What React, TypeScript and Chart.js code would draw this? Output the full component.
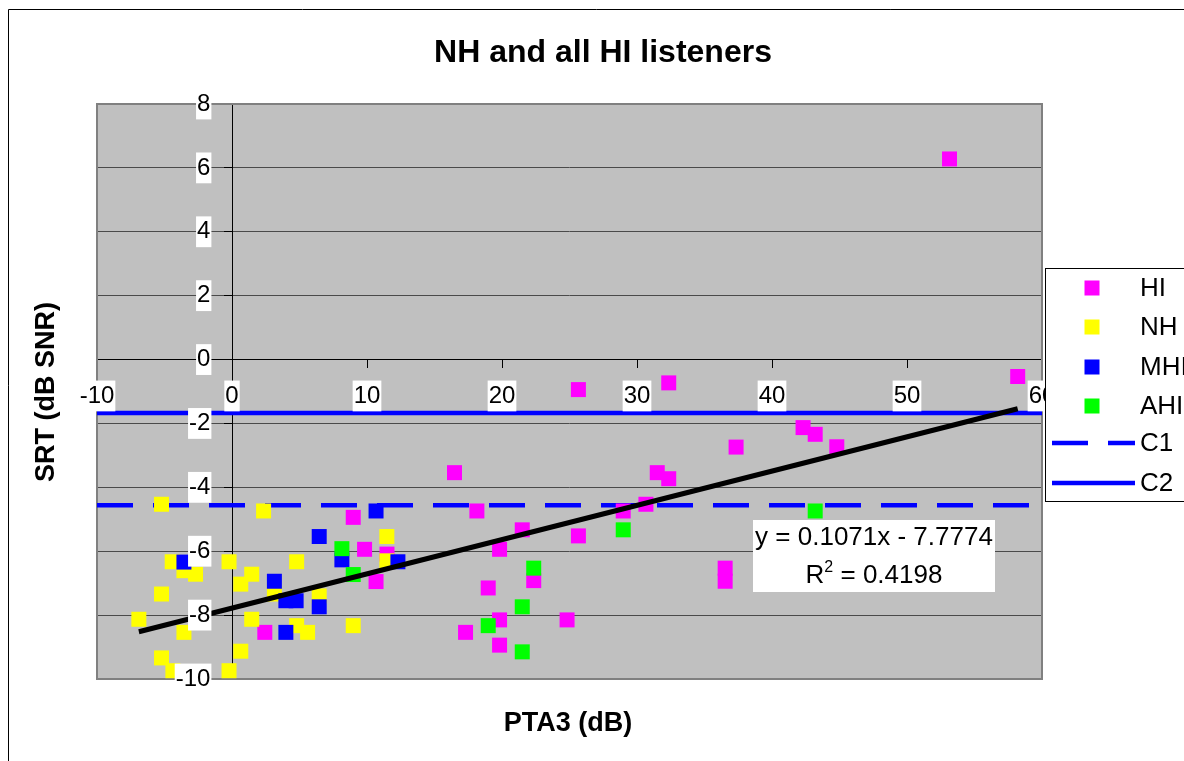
import React, { useEffect, useRef } from 'react';
import { Chart, registerables } from 'chart.js';

Chart.register(...registerables);

// ---- data ----
const seriesNames = ['HI', 'NH', 'MHI', 'AHI', 'C1', 'C2'];
const seriesColors = ['#FF00FF', '#FFFF00', '#0000FF', '#00FF00', '#0000FF', '#0000FF'];

const hiX = [53.15, 58.2, 25.66, 32.35, 42.3, 43.2, 44.8, 37.34, 31.5, 32.35, 30.66, 28.98, 25.66, 36.53, 36.53, 16.48, 18.14, 21.5, 19.82, 18.98, 22.35, 19.82, 24.82, 17.3, 19.82, 8.98, 9.82, 11.48, 10.67, 2.43];
const hiY = [6.28, -0.53, -0.94, -0.73, -2.13, -2.34, -2.73, -2.74, -3.54, -3.73, -4.53, -4.74, -5.52, -6.53, -6.94, -3.54, -4.74, -5.33, -5.94, -7.15, -6.92, -8.15, -8.15, -8.54, -8.94, -4.94, -5.94, -6.09, -6.95, -8.54];

const nhX = [-5.22, 2.34, -4.43, -3.56, -2.7, -0.22, 0.65, 1.46, -5.22, -6.9, -3.56, 1.46, 0.65, -5.22, -4.38, -0.22, 11.47, 4.79, 11.47, 3.14, 6.46, 4.79, 5.6, 8.98];
const nhY = [-4.53, -4.74, -6.33, -6.61, -6.72, -6.33, -7.03, -6.72, -7.34, -8.13, -8.54, -8.13, -9.13, -9.34, -9.74, -9.74, -5.54, -6.33, -6.3, -7.34, -7.4, -8.33, -8.54, -8.33];

const mhiX = [-3.56, 10.67, 6.46, 8.14, 12.29, 3.14, 3.99, 4.75, 6.46, 3.99];
const mhiY = [-6.34, -4.74, -5.54, -6.27, -6.33, -6.94, -7.55, -7.55, -7.74, -8.54];

const ahiX = [8.14, 8.98, 22.35, 21.5, 18.98, 21.5, 28.98, 43.2];
const ahiY = [-5.92, -6.73, -6.53, -7.74, -8.33, -9.15, -5.33, -4.74];

const c1Y = -4.56;
const c2Y = -1.67;
const refLineX = [-10, 60];

const trendX = [-6.9, 58.2];
const trendY = [-8.52, -1.54];

const equationText = 'y = 0.1071x - 7.7774';
const r2Text = '= 0.4198';

const chartTitle = 'NH and all HI listeners';
const xTitle = 'PTA3 (dB)';
const yTitle = 'SRT (dB SNR)';

const xMin = -10, xMax = 60, xStep = 10;
const yMin = -10, yMax = 8, yStep = 2;

const toPts = (xs: number[], ys: number[]) => xs.map((x, i) => ({ x, y: ys[i] }));

const FONT = '"Liberation Sans", Arial, Helvetica, sans-serif';

export default function App() {
  const ref = useRef<HTMLCanvasElement>(null);

  useEffect(() => {
    const canvas = ref.current;
    if (!canvas) return;

    const decor = {
      id: 'decor',
      beforeDraw(chart: any) {
        const { ctx, chartArea: a } = chart;
        ctx.save();
        ctx.fillStyle = '#ffffff';
        ctx.fillRect(0, 0, chart.width, chart.height);
        ctx.strokeStyle = '#000';
        ctx.lineWidth = 1;
        ctx.beginPath();
        ctx.moveTo(0.5, chart.height);
        ctx.lineTo(0.5, 1.5);
        ctx.lineTo(chart.width, 1.5);
        ctx.stroke();
        ctx.fillStyle = '#C0C0C0';
        ctx.fillRect(a.left, a.top, a.right - a.left, a.bottom - a.top);
        ctx.restore();
      },
      beforeDatasetsDraw(chart: any) {
        const { ctx, chartArea: a } = chart;
        ctx.save();
        ctx.strokeStyle = '#808080';
        ctx.lineWidth = 2;
        ctx.strokeRect(a.left, a.top, a.right - a.left, a.bottom - a.top);
        ctx.restore();
      },
      afterDatasetsDraw(chart: any) {
        const { ctx } = chart;
        ctx.save();
        // equation box
        const bx = 745, by = 512, bw = 242, bh = 72;
        ctx.fillStyle = '#fff';
        ctx.fillRect(bx, by, bw, bh);
        ctx.fillStyle = '#000';
        ctx.textBaseline = 'alphabetic';
        ctx.font = `26px ${FONT}`;
        ctx.textAlign = 'center';
        const cx = bx + bw / 2;
        ctx.fillText(equationText, cx, 537);
        // R^2 line
        ctx.textAlign = 'left';
        const wR = ctx.measureText('R').width;
        const wRest = ctx.measureText(' ' + r2Text).width;
        ctx.font = `16px ${FONT}`;
        const w2 = ctx.measureText('2').width;
        const total = wR + w2 + wRest;
        const x0 = cx - total / 2;
        ctx.font = `26px ${FONT}`;
        ctx.fillText('R', x0, 575);
        ctx.font = `16px ${FONT}`;
        ctx.fillText('2', x0 + wR, 564);
        ctx.font = `26px ${FONT}`;
        ctx.fillText(' ' + r2Text, x0 + wR + w2, 575);
        ctx.restore();
      },
      afterDraw(chart: any) {
        const { ctx } = chart;
        ctx.save();
        ctx.fillStyle = '#000';
        ctx.textAlign = 'center';
        ctx.textBaseline = 'middle';
        ctx.font = `bold 32px ${FONT}`;
        ctx.fillText(chartTitle, 595, 45);
        ctx.font = `bold 27px ${FONT}`;
        ctx.fillText(xTitle, 560, 716);
        ctx.save();
        ctx.translate(39, 384);
        ctx.rotate(-Math.PI / 2);
        ctx.fillText(yTitle, 0, 0);
        ctx.restore();

        // legend
        const lx = 1037, ly = 260, lw = 200, lh = 233;
        ctx.fillStyle = '#fff';
        ctx.fillRect(lx, ly, lw, lh);
        ctx.strokeStyle = '#000';
        ctx.lineWidth = 1;
        ctx.strokeRect(lx + 0.5, ly + 0.5, lw, lh);
        const rowsY = [280, 319, 359, 398, 435, 475];
        ctx.textAlign = 'left';
        ctx.font = `26px ${FONT}`;
        seriesNames.forEach((name, i) => {
          const ry = rowsY[i];
          if (i < 4) {
            ctx.fillStyle = seriesColors[i];
            ctx.fillRect(1084 - 7.5, ry - 7.5, 15, 15);
          } else {
            ctx.strokeStyle = seriesColors[i];
            ctx.lineWidth = 4.5;
            ctx.setLineDash(i === 4 ? [36, 20] : []);
            ctx.beginPath();
            ctx.moveTo(1044, ry);
            ctx.lineTo(1127, ry);
            ctx.stroke();
            ctx.setLineDash([]);
          }
          ctx.fillStyle = '#000';
          ctx.fillText(name, 1132, ry + 1);
        });
        ctx.restore();
      },
    };

    const tickFont = { size: 24, family: FONT };
    const pointBase = { pointStyle: 'rect', pointRadius: 10.6, pointHoverRadius: 10.6, borderWidth: 0, showLine: false };
    const labelTicks = {
      font: tickFont,
      color: '#000',
      padding: 14,
      showLabelBackdrop: true,
      backdropColor: '#fff',
      backdropPadding: 1,
      z: 1,
      maxRotation: 0,
      autoSkip: false,
    };

    const chart = new Chart(canvas, {
      type: 'scatter',
      data: {
        datasets: [
          {
            label: 'Trend',
            data: toPts(trendX, trendY),
            showLine: true,
            borderColor: '#000',
            borderWidth: 5,
            pointRadius: 0,
            fill: false,
            order: 0,
          },
          { label: seriesNames[3], data: toPts(ahiX, ahiY), backgroundColor: seriesColors[3], borderColor: seriesColors[3], ...pointBase, order: 1 } as any,
          { label: seriesNames[2], data: toPts(mhiX, mhiY), backgroundColor: seriesColors[2], borderColor: seriesColors[2], ...pointBase, order: 2 } as any,
          { label: seriesNames[1], data: toPts(nhX, nhY), backgroundColor: seriesColors[1], borderColor: seriesColors[1], ...pointBase, order: 3 } as any,
          { label: seriesNames[0], data: toPts(hiX, hiY), backgroundColor: seriesColors[0], borderColor: seriesColors[0], ...pointBase, order: 4 } as any,
          {
            label: seriesNames[5],
            data: toPts(refLineX, [c2Y, c2Y]),
            showLine: true,
            borderColor: seriesColors[5],
            borderWidth: 4.5,
            pointRadius: 0,
            fill: false,
            order: 5,
          },
          {
            label: seriesNames[4],
            data: toPts(refLineX, [c1Y, c1Y]),
            showLine: true,
            borderColor: seriesColors[4],
            borderWidth: 4.5,
            borderDash: [36, 20],
            borderCapStyle: 'butt',
            pointRadius: 0,
            fill: false,
            order: 6,
          },
        ],
      },
      options: {
        responsive: false,
        animation: false,
        devicePixelRatio: 1,
        events: [],
        layout: { padding: { left: 89, top: 96, right: 142, bottom: 82 } },
        plugins: {
          legend: { display: false },
          title: { display: false },
          tooltip: { enabled: false },
        },
        scales: {
          x: {
            type: 'linear',
            min: xMin,
            max: xMax,
            position: { y: 0 } as any,
            ticks: { ...labelTicks, stepSize: xStep } as any,
            grid: { drawOnChartArea: false, drawTicks: true, tickLength: 8, tickColor: '#000', color: '#000' },
            border: { display: true, color: '#000', width: 1 },
          },
          y: {
            type: 'linear',
            min: yMin,
            max: yMax,
            position: { x: 0 } as any,
            ticks: { stepSize: yStep, display: false } as any,
            grid: { color: '#4a4a4a', lineWidth: 1, drawTicks: true, tickLength: 8, tickColor: '#000' },
            border: { display: true, color: '#000', width: 1 },
          },
          // label-only axis: carries the y tick labels, set left of the y axis line
          yLabels: {
            type: 'linear',
            axis: 'y',
            min: yMin,
            max: yMax,
            position: { x: -1.6 } as any,
            ticks: { ...labelTicks, stepSize: yStep } as any,
            grid: { display: false, drawOnChartArea: false, drawTicks: false },
            border: { display: false },
          },
        },
      },
      plugins: [decor],
    } as any);

    return () => chart.destroy();
  }, []);

  return (
    <div style={{ position: 'fixed', left: 8, top: 8, width: 1176, height: 753, overflow: 'hidden' }}>
      <canvas ref={ref} width={1176} height={753} style={{ display: 'block', width: 1176, height: 753 }} />
    </div>
  );
}
